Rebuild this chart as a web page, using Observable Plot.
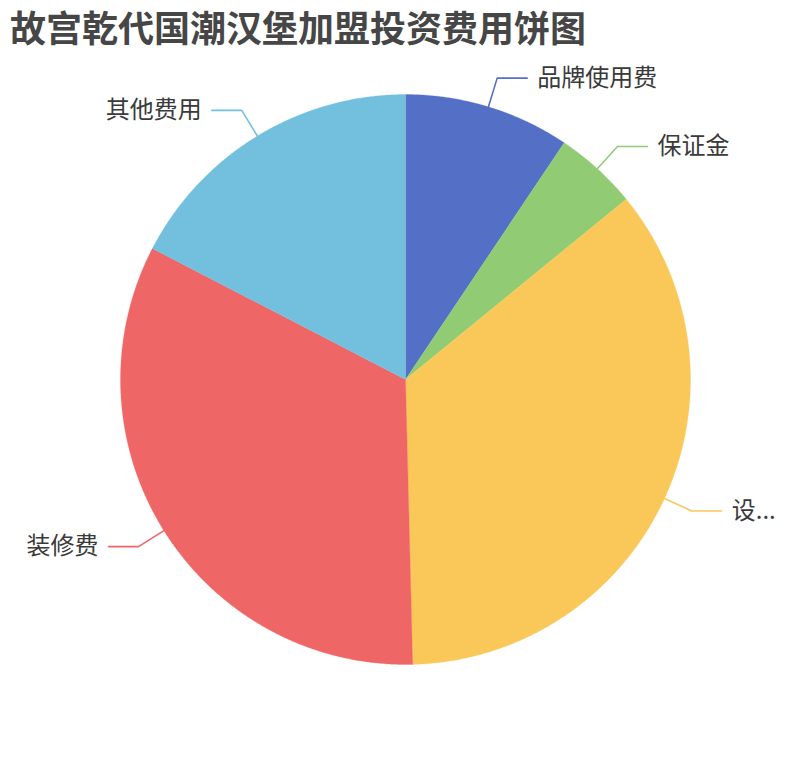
<!DOCTYPE html>
<html>
<head>
<meta charset="utf-8">
<script src="https://cdn.jsdelivr.net/npm/d3@7"></script>
<script src="https://cdn.jsdelivr.net/npm/@observablehq/plot@0.6"></script>
<style>
  body { margin: 0; background: #fff; font-family: "Noto Sans CJK SC", "Noto Sans", sans-serif; }
  #title { height: 52px; line-height: 52px; padding-left: 10px; font-size: 36px; font-weight: bold; color: #464646; white-space: nowrap; }
</style>
</head>
<body>
<div id="title">故宫乾代国潮汉堡加盟投资费用饼图</div>
<div id="chart"></div>
<script>
const categories = ["品牌使用费", "保证金", "设备费", "装修费", "其他费用"];
const values = [9.4, 4.7, 35.5, 33.0, 17.4];
const labelTexts = ["品牌使用费", "保证金", "设...", "装修费", "其他费用"];
const colors = ["#5470c6", "#91cc75", "#fac858", "#ee6666", "#73c0de"];

const W = 810, H = 708;
const R = 285;          // pixels per radius unit
const cx = 405, cy = 327;
const len1 = 30 / R, len2 = 30 / R;

const arcs = d3.pie().sort(null).value((d, i) => values[i])(categories);

// slice polygons
const slicePts = [];
arcs.forEach((a, i) => {
  const name = categories[i];
  slicePts.push({name, x: 0, y: 0});
  const n = Math.max(2, Math.ceil((a.endAngle - a.startAngle) / 0.005));
  for (let k = 0; k <= n; k++) {
    const t = a.startAngle + (a.endAngle - a.startAngle) * k / n;
    slicePts.push({name, x: Math.sin(t), y: Math.cos(t)});
  }
  slicePts.push({name, x: 0, y: 0});
});

// label lines and text
const linePts = [];
const labels = [];
arcs.forEach((a, i) => {
  const name = categories[i];
  const m = (a.startAngle + a.endAngle) / 2;
  const s = Math.sin(m) >= 0 ? 1 : -1;
  const p0 = {x: Math.sin(m), y: Math.cos(m)};
  const p1 = {x: Math.sin(m) * (1 + len1), y: Math.cos(m) * (1 + len1)};
  const p2 = {x: p1.x + s * len2, y: p1.y};
  [p0, p1, p2].forEach(p => linePts.push({name, ...p}));
  labels.push({name, text: labelTexts[i], x: p2.x, y: p2.y, side: s});
});

const plot = Plot.plot({
  width: W, height: H,
  margin: 0,
  x: {domain: [-cx / R, (W - cx) / R], axis: null},
  y: {domain: [-(H - cy) / R, cy / R], axis: null},
  color: {domain: categories, range: colors},
  style: {background: "#fff", fontFamily: "'Noto Sans CJK SC', sans-serif"},
  marks: [
    Plot.line(slicePts, {x: "x", y: "y", z: "name", fill: "name", stroke: "name", strokeWidth: 0.3, curve: "linear"}),
    Plot.line(linePts, {x: "x", y: "y", z: "name", stroke: "name", strokeWidth: 1.6, curve: "linear"}),
    Plot.text(labels.filter(d => d.side > 0), {x: "x", y: "y", text: "text", textAnchor: "start", dx: 10, fontSize: 24, fill: "#3a3a3a"}),
    Plot.text(labels.filter(d => d.side < 0), {x: "x", y: "y", text: "text", textAnchor: "end", dx: -10, fontSize: 24, fill: "#3a3a3a"})
  ]
});
document.getElementById("chart").appendChild(plot);
</script>
</body>
</html>
